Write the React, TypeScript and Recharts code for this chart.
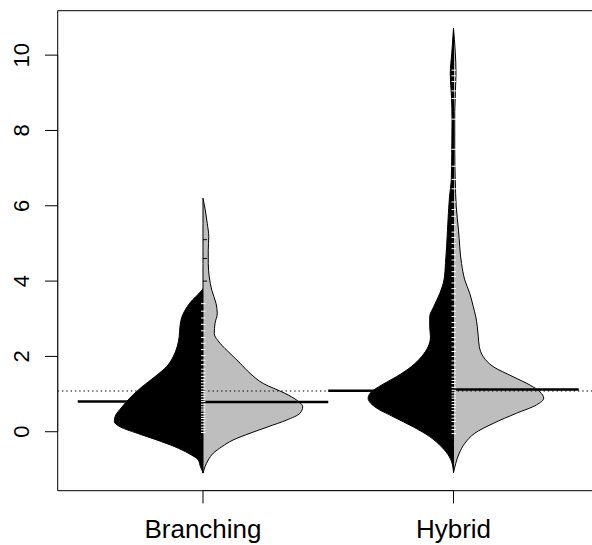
import { ComposedChart, Area, Line, Scatter, XAxis, YAxis, ReferenceArea } from "recharts";

const groups = ["Branching", "Hybrid"];
const yTicks = [0, 2, 4, 6, 8, 10];
const xDomain = [0.42, 2.58];
const yDomain = [-1.566, 11.18];

// half-widths of each bean side (in x-axis units) at the listed y levels
const branchingLeftY = [-1.09, -1.02, -0.93, -0.75, -0.57, -0.4, -0.22, -0.04, 0.13, 0.27, 0.4, 0.66, 0.93, 1.19, 1.46, 1.73, 1.99, 2.26, 2.52, 2.79, 3.05, 3.32, 3.5, 3.67, 3.8];
const branchingLeftW = [0, 0.004, 0.01, 0.019, 0.059, 0.112, 0.184, 0.263, 0.331, 0.354, 0.351, 0.323, 0.287, 0.244, 0.192, 0.145, 0.119, 0.103, 0.095, 0.092, 0.084, 0.063, 0.042, 0.016, 0];

const branchingRightY = [-1.1, -0.93, -0.75, -0.57, -0.4, -0.22, -0.04, 0.13, 0.31, 0.49, 0.66, 0.84, 1.02, 1.28, 1.55, 1.82, 2.08, 2.35, 2.61, 2.88, 3.14, 3.41, 3.76, 4.11, 4.47, 4.82, 5.18, 5.53, 5.89, 6.2];
const branchingRightW = [0, 0.008, 0.021, 0.041, 0.075, 0.12, 0.188, 0.259, 0.334, 0.387, 0.398, 0.374, 0.327, 0.241, 0.188, 0.148, 0.108, 0.068, 0.045, 0.048, 0.057, 0.052, 0.035, 0.025, 0.021, 0.021, 0.023, 0.017, 0.009, 0];

const hybridLeftY = [-1.09, -0.88, -0.66, -0.4, -0.13, 0.13, 0.4, 0.66, 0.89, 1.06, 1.24, 1.46, 1.73, 1.99, 2.26, 2.52, 2.79, 3.05, 3.32, 3.67, 4.03, 4.47, 5.35, 6.24, 6.68, 7.39, 8.27, 8.89, 9.51, 10.05, 10.71];
const hybridLeftW = [0, 0.004, 0.017, 0.048, 0.095, 0.161, 0.241, 0.314, 0.341, 0.327, 0.287, 0.228, 0.168, 0.128, 0.101, 0.092, 0.095, 0.095, 0.079, 0.055, 0.038, 0.032, 0.024, 0.016, 0.009, 0.007, 0.006, 0.008, 0.013, 0.007, 0];

const hybridRightY = [-1.09, -0.84, -0.57, -0.31, -0.04, 0.22, 0.49, 0.71, 0.89, 1.06, 1.24, 1.46, 1.73, 1.99, 2.26, 2.52, 2.79, 3.05, 3.32, 3.67, 4.03, 4.47, 5.35, 5.97, 6.68, 7.5, 8.5, 9.5, 10.71];
const hybridRightW = [0, 0.009, 0.023, 0.045, 0.085, 0.158, 0.251, 0.331, 0.36, 0.345, 0.305, 0.238, 0.158, 0.119, 0.103, 0.099, 0.095, 0.089, 0.079, 0.065, 0.045, 0.032, 0.02, 0.011, 0.007, 0.005, 0.005, 0.01, 0];

// individual observations drawn as short strokes along each bean's centre
const branchingObs = [-0.02, 0.05, 0.12, 0.2, 0.28, 0.35, 0.41, 0.48, 0.55, 0.6, 0.66, 0.73, 0.8, 0.86, 0.93, 1.0, 1.07, 1.14, 1.22, 1.3, 1.38, 1.47, 1.56, 1.66, 1.78, 1.9, 2.02, 2.18, 2.35, 2.5, 2.68, 2.85, 3.02, 3.2, 3.4];
const branchingUpperObs = [4.0, 4.6, 5.1];
const hybridObs = [-0.05, 0.06, 0.15, 0.27, 0.36, 0.45, 0.56, 0.64, 0.72, 0.8, 0.89, 0.95, 1.03, 1.1, 1.18, 1.28, 1.36, 1.45, 1.56, 1.65, 1.77, 1.88, 2.0, 2.13, 2.25, 2.39, 2.5, 2.64, 2.77, 2.9, 3.06, 3.2, 3.34, 3.5, 3.66, 3.8, 3.95, 4.12, 4.25, 4.4, 4.56, 4.7, 4.86, 5.0, 5.16, 5.3, 5.5, 5.72, 5.9, 6.1, 6.45, 6.7, 7.05, 7.5, 8.3, 8.85, 9.05, 9.3, 9.45, 9.6];

const overallMean = 1.08;
const branchingMeans = [0.8, 0.79];
const hybridMeans = [1.09, 1.12];

const FONT = "'Liberation Sans', Arial, Helvetica, sans-serif";
const GREY = "#bebebe";

const halfBean = (levels: number[], widths: number[]) =>
  levels.map((v, i) => ({ v, w: widths[i] }));

const strip = (pos: number, values: number[]) => values.map((v) => ({ x: pos, v }));

const segment = (x1: number, v1: number, x2: number, v2: number) => [
  { x: x1, v: v1 },
  { x: x2, v: v2 },
];

function YTick(props: any) {
  const { x, y, payload } = props;
  const bx = x - 14;
  return (
    <text
      x={bx}
      y={y}
      transform={`rotate(-90 ${bx} ${y})`}
      textAnchor="middle"
      fontFamily={FONT}
      fontSize={22}
      fill="#000"
    >
      {payload.value}
    </text>
  );
}

function XTick(props: any) {
  const { x, y, payload } = props;
  return (
    <text x={x} y={y} dy={33} textAnchor="middle" fontFamily={FONT} fontSize={26} fill="#000">
      {groups[payload.value - 1]}
    </text>
  );
}

const whiteDash = (p: any) => (
  <line x1={p.cx - 2} x2={p.cx + 2.5} y1={p.cy} y2={p.cy} stroke="#fff" strokeWidth={1} />
);
const blackDash = (p: any) => (
  <line x1={p.cx} x2={p.cx + 4} y1={p.cy} y2={p.cy} stroke="#000" strokeWidth={1} />
);

export default function App() {
  const beans = [
    { pos: 1, left: halfBean(branchingLeftY, branchingLeftW), right: halfBean(branchingRightY, branchingRightW) },
    { pos: 2, left: halfBean(hybridLeftY, hybridLeftW), right: halfBean(hybridRightY, hybridRightW) },
  ];
  const means = [branchingMeans, hybridMeans];

  return (
    <div style={{ position: "absolute", left: 0, top: 0, width: 592, height: 545, overflow: "hidden", background: "#fff" }}>
      <ComposedChart
        width={600}
        height={545}
        layout="vertical"
        margin={{ top: 10.7, right: 1.2, bottom: 0, left: 0 }}
      >
        <XAxis
          type="number"
          dataKey="x"
          domain={xDomain}
          allowDataOverflow
          ticks={[1, 2]}
          height={54.3}
          axisLine={false}
          tickSize={12.7}
          tickLine={{ stroke: "#000" }}
          tick={XTick}
          interval={0}
        />
        <YAxis
          type="number"
          dataKey="v"
          domain={yDomain}
          allowDataOverflow
          reversed
          ticks={yTicks}
          width={57.7}
          axisLine={false}
          tickSize={12.7}
          tickLine={{ stroke: "#000" }}
          tick={YTick}
          interval={0}
        />

        {/* overall mean, dotted, behind the beans */}
        <Line
          data={segment(xDomain[0], overallMean, xDomain[1], overallMean)}
          dataKey="x"
          stroke="#000"
          strokeWidth={1.1}
          strokeDasharray="1.4 2.9"
          dot={false}
          isAnimationActive={false}
        />

        {beans.map((b) => [
          <Area
            key={`l${b.pos}`}
            data={b.left}
            dataKey={(d: any) => [b.pos - d.w, b.pos]}
            type="monotone"
            fill="#000"
            fillOpacity={1}
            stroke="#000"
            strokeWidth={1}
            isAnimationActive={false}
          />,
          <Area
            key={`r${b.pos}`}
            data={b.right}
            dataKey={(d: any) => [b.pos, b.pos + d.w]}
            type="monotone"
            fill={GREY}
            fillOpacity={1}
            stroke="#000"
            strokeWidth={1}
            isAnimationActive={false}
          />,
        ])}

        <Scatter data={strip(1, branchingObs)} shape={whiteDash} isAnimationActive={false} />
        <Scatter data={strip(1, branchingUpperObs)} shape={blackDash} isAnimationActive={false} />
        <Scatter data={strip(2, hybridObs)} shape={whiteDash} isAnimationActive={false} />

        {means.map((m, i) => {
          const pos = i + 1;
          return [
            <Line
              key={`ml${pos}`}
              data={segment(pos - 0.5, m[0], pos, m[0])}
              dataKey="x"
              stroke="#000"
              strokeWidth={2.5}
              dot={false}
              isAnimationActive={false}
            />,
            <Line
              key={`mr${pos}`}
              data={segment(pos, m[1], pos + 0.5, m[1])}
              dataKey="x"
              stroke="#000"
              strokeWidth={2.5}
              dot={false}
              isAnimationActive={false}
            />,
          ];
        })}

        {/* axis lines over the tick range, drawn on top of the frame */}
        <Line
          data={segment(xDomain[0], yTicks[0], xDomain[0], yTicks[yTicks.length - 1])}
          dataKey="x"
          stroke="#000"
          strokeWidth={1}
          dot={false}
          isAnimationActive={false}
        />
        <Line
          data={segment(1, yDomain[0], 2, yDomain[0])}
          dataKey="x"
          stroke="#000"
          strokeWidth={1}
          dot={false}
          isAnimationActive={false}
        />

        <ReferenceArea
          x1={xDomain[0]}
          x2={xDomain[1]}
          y1={yDomain[0]}
          y2={yDomain[1]}
          fill="none"
          stroke="#000"
          strokeWidth={1}
          ifOverflow="visible"
        />
      </ComposedChart>
    </div>
  );
}
